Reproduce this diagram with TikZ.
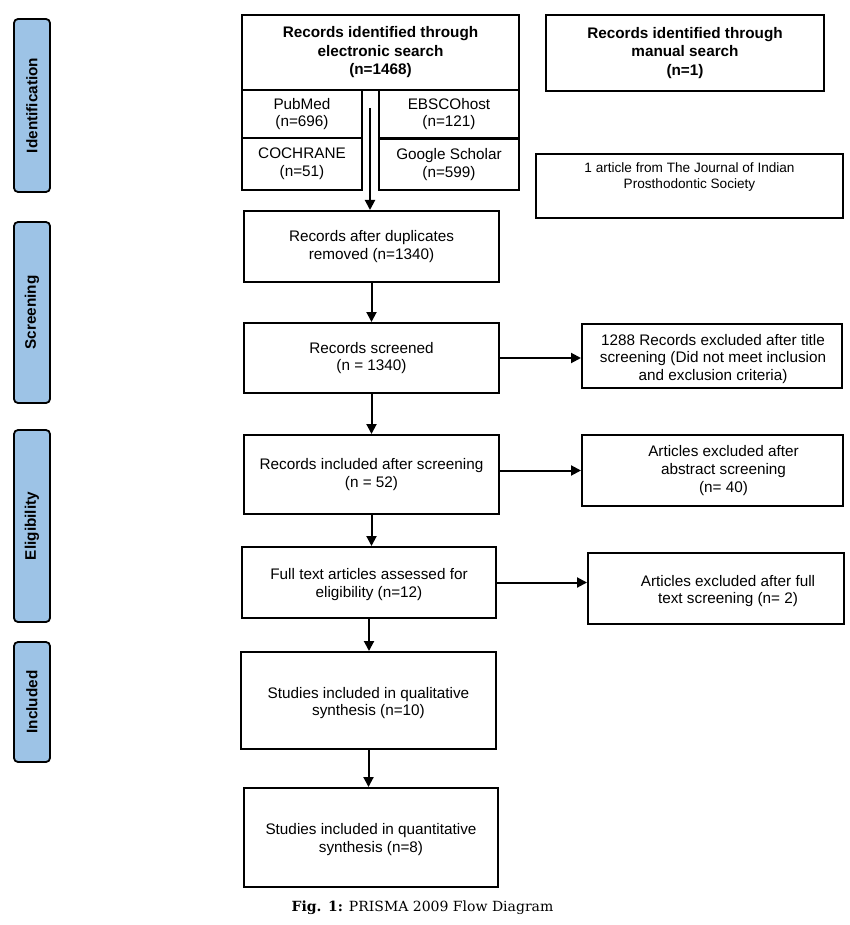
\documentclass[tikz,border=0pt]{standalone}
\usepackage{fontspec}
\setmainfont{Liberation Sans}
\newfontfamily\capfont{DejaVu Serif}
\usetikzlibrary{arrows.meta}
\definecolor{phaseblue}{RGB}{157,195,230}
\begin{document}
\begin{tikzpicture}[x=1pt,y=-1pt,
  box/.style={draw=black, line width=2pt, inner sep=0pt, align=center,
    font=\fontsize{15.3}{17.8}\selectfont},
  hbox/.style={box, font=\fontsize{15.3}{18.5}\selectfont\bfseries},
  txt/.style={inner sep=0pt, align=center, font=\fontsize{15.3}{17.8}\selectfont},
  phase/.style={draw=black, line width=1.8pt, fill=phaseblue, rounded corners=4pt,
    rotate=90, inner sep=0pt, minimum height=36pt,
    font=\fontsize{15.3}{18}\selectfont\bfseries},
  arr/.style={line width=2pt, -{Triangle[length=10pt,width=10pt]}},
]
\fill[white] (0,0) rectangle (850,925);
\useasboundingbox (0,0) rectangle (850,925);

% phase labels
\node[phase, minimum width=173pt] (pid) at (32,105.5) {Identification};
\node[phase, minimum width=181pt] (psc) at (32,312.5) {Screening};
\node[phase, minimum width=192pt] (pel) at (32,526) {Eligibility};
\node[phase, minimum width=120pt] (pin) at (32,702) {Included};

% identification
\node[hbox, minimum width=277pt, minimum height=75pt] (elec) at (380.5,52.5)
  {Records identified through\\electronic search\\(n=1468)};
\node[hbox, minimum width=278pt, minimum height=76pt] (man) at (685,53)
  {Records identified through\\manual search\\(n=1)};
\node[box, minimum width=120pt, minimum height=48pt] (pub) at (302,114) {PubMed\\(n=696)};
\node[box, minimum width=120pt, minimum height=52pt] (coch) at (302,164) {COCHRANE\\(n=51)};
\node[box, minimum width=140pt, minimum height=48pt] (ebs) at (449,114) {EBSCOhost\\(n=121)};
\node[box, minimum width=140pt, minimum height=51pt] (goo) at (449,164.5) {Google Scholar\\(n=599)};
\node[box, minimum width=307pt, minimum height=64pt] (jour) at (689.5,186) {};
\node[txt, anchor=north, font=\fontsize{13.6}{16.8}\selectfont] (jourt) at (689.5,162)
  {1 article from The Journal of Indian\\Prosthodontic Society};

% screening
\node[box, minimum width=255pt, minimum height=71pt] (dup) at (371.5,246.5)
  {Records after duplicates\\removed (n=1340)};
\node[box, minimum width=255pt, minimum height=70pt] (scr) at (371.5,358)
  {Records screened\\(n = 1340)};
\node[box, minimum width=260pt, minimum height=64pt] (exc) at (712,356) {};
\node[txt] (exct) at (713,359)
  {1288 Records excluded after title\\screening (Did not meet inclusion\\and exclusion criteria)};

% eligibility
\node[box, minimum width=255pt, minimum height=79pt] (inc) at (371.5,474.5)
  {Records included after screening\\(n = 52)};
\node[box, minimum width=261pt, minimum height=71pt] (abs) at (712.5,470.5) {};
\node[txt] (abst) at (723.5,470.5)
  {Articles excluded after\\abstract screening\\(n= 40)};
\node[box, minimum width=254pt, minimum height=71pt] (ft) at (369,582.5) {};
\node[txt] (ftt) at (369,584.5) {Full text articles assessed for\\eligibility (n=12)};
\node[box, minimum width=256pt, minimum height=71pt] (ftx) at (716,588.5) {};
\node[txt] (ftxt) at (728,591) {Articles excluded after full\\text screening (n= 2)};

% included
\node[box, minimum width=255pt, minimum height=97pt] (qual) at (368.5,700.5) {};
\node[txt] (qualt) at (368.5,703) {Studies included in qualitative\\synthesis (n=10)};
\node[box, minimum width=254pt, minimum height=99pt] (quan) at (371,837.5) {};
\node[txt] (quant) at (371,839.5) {Studies included in quantitative\\synthesis (n=8)};

% caption
\node[inner sep=0pt, font=\capfont\fontsize{14}{16}\selectfont] (cap) at (422.5,908)
  {\textbf{Fig. 1:} PRISMA 2009 Flow Diagram};

% connectors
\coordinate (es) at (370,108);
\draw[arr] (es) -- (es |- dup.north);
\draw[arr] (dup.south) -- (dup.south |- scr.north);
\draw[arr] (scr.south) -- (scr.south |- inc.north);
\draw[arr] (scr.east) -- (scr.east -| exc.west);
\draw[arr] (inc.east |- abs.west) -- (abs.west);
\draw[arr] (inc.south) -- (inc.south |- ft.north);
\draw[arr] (ft.east) -- (ft.east -| ftx.west);
\draw[arr] (ft.south) -- (ft.south |- qual.north);
\draw[arr] (qual.south) -- (qual.south |- quan.north);
\end{tikzpicture}
\end{document}
